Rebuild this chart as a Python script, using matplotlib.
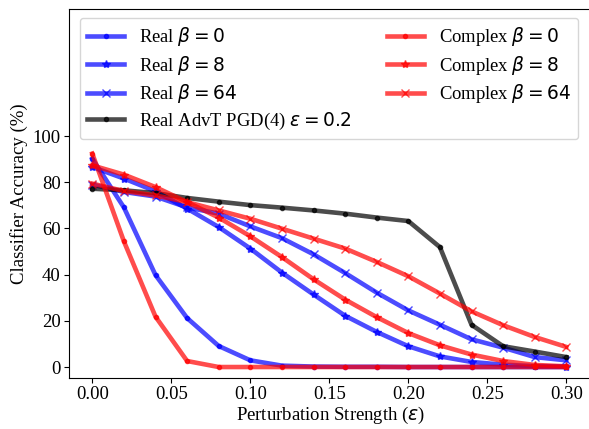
import matplotlib
matplotlib.use("Agg")
import matplotlib.pyplot as plt
import numpy as np

plt.rcParams['font.family'] = ['Liberation Serif', 'DejaVu Serif']
plt.rcParams['mathtext.fontset'] = 'dejavusans'

eps = [0.00, 0.02, 0.04, 0.06, 0.08, 0.10, 0.12, 0.14, 0.16, 0.18, 0.20, 0.22, 0.24, 0.26, 0.28, 0.30]

real_b0 = [90.2, 69.1, 39.8, 21.2, 9.1, 2.9, 0.6, 0.2, 0.1, 0.1, 0.0, 0.0, 0.0, 0.0, 0.0, 0.0]
real_b8 = [86.6, 81.6, 76.1, 68.6, 60.6, 51.3, 40.9, 31.4, 22.2, 15.2, 9.0, 4.6, 2.2, 1.0, 0.4, 0.2]
real_b64 = [79.0, 75.8, 73.8, 69.1, 66.4, 60.9, 55.8, 48.8, 40.7, 32.2, 24.5, 18.3, 12.0, 8.4, 4.3, 2.9]
real_advt = [77.2, 76.5, 75.3, 73.2, 71.6, 70.1, 69.0, 67.8, 66.4, 64.7, 63.2, 51.9, 18.3, 9.0, 6.7, 4.3]
cplx_b0 = [92.4, 54.4, 21.8, 2.6, 0.0, 0.0, 0.0, 0.0, 0.0, 0.0, 0.0, 0.0, 0.0, 0.0, 0.0, 0.0]
cplx_b8 = [87.3, 83.3, 77.9, 71.4, 64.7, 56.6, 47.6, 38.0, 29.2, 21.6, 14.7, 9.4, 5.4, 2.6, 0.9, 0.3]
cplx_b64 = [79.4, 76.2, 74.3, 71.4, 67.8, 64.2, 59.9, 55.6, 51.3, 45.5, 39.3, 31.8, 24.1, 18.1, 13.0, 8.7]

labels = [r'Real $\beta=0$', r'Real $\beta=8$', r'Real $\beta=64$',
          r'Real AdvT PGD(4) $\epsilon=0.2$',
          r'Complex $\beta=0$', r'Complex $\beta=8$', r'Complex $\beta=64$']

W, H = 589, 429
fig = plt.figure(figsize=(W / 100, H / 100), dpi=100)
ax = fig.add_axes([69 / W, (H - 377.7) / H, (592 - 69) / W, (377.7 - 9) / H])

series = [(real_b0, 'blue', '.'), (real_b8, 'blue', '*'), (real_b64, 'blue', 'x'),
          (real_advt, 'black', '.'), (cplx_b0, 'red', '.'), (cplx_b8, 'red', '*'),
          (cplx_b64, 'red', 'x')]
for (vals, c, m), lab in zip(series, labels):
    ax.plot(eps, vals, color=c, marker=m, lw=3.3, alpha=0.7, label=lab)

ax.set_xlim(-0.01475, 0.31625)
ax.set_ylim(top=155)
ax.set_yticks([0, 20, 40, 60, 80, 100])
ax.set_xticks([0.00, 0.05, 0.10, 0.15, 0.20, 0.25, 0.30])
ax.set_xticklabels(['0.00', '0.05', '0.10', '0.15', '0.20', '0.25', '0.30'])
ax.tick_params(labelsize=13.5, pad=2.5)
ax.set_xlabel(r'Perturbation Strength ($\epsilon$)', fontsize=13.5, labelpad=1)
ax.set_ylabel('Classifier Accuracy (%)', fontsize=13.5, labelpad=3)

ax.legend(ncol=2, loc='upper left', bbox_to_anchor=((79.5 - 69) / 523, 1 - (17.7 - 9) / 368.7),
          borderaxespad=0, fontsize=13.4, handlelength=2.0, columnspacing=1.9,
          labelspacing=0.3)

fig.savefig('out.png', dpi=100)
